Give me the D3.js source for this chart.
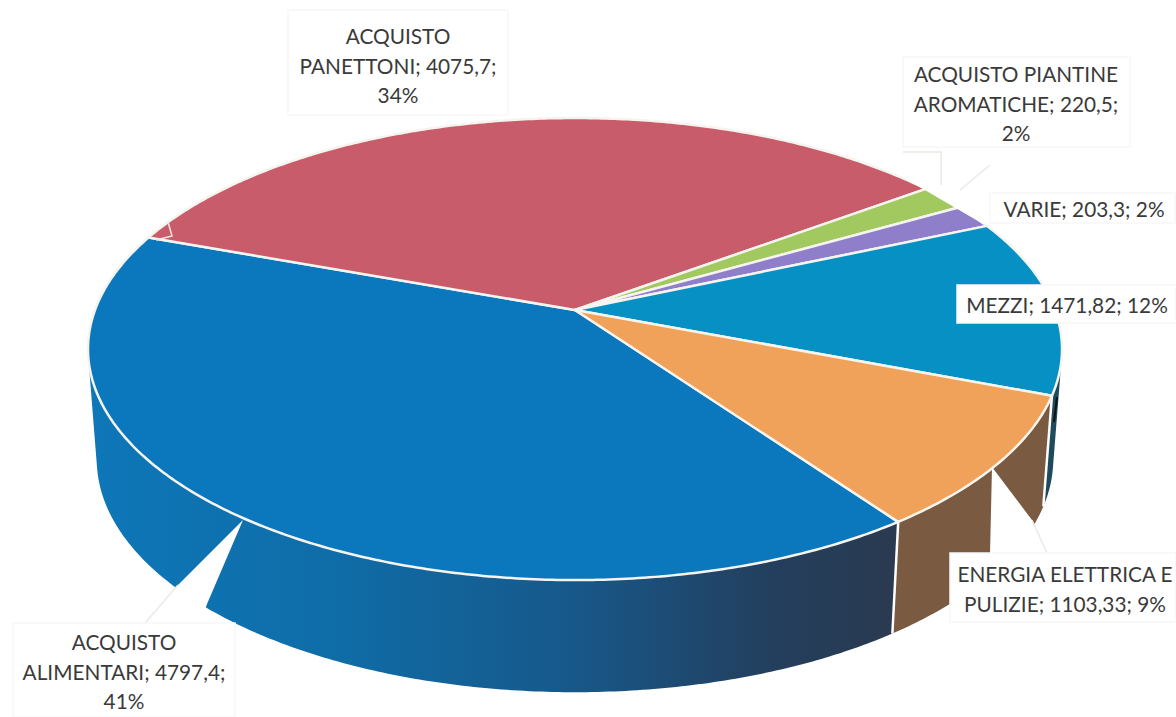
<!DOCTYPE html>
<html>
<head>
<meta charset="utf-8">
<script src="https://cdn.jsdelivr.net/npm/d3@7"></script>
<style>
  html, body { margin: 0; padding: 0; background: #fff; }
  svg { display: block; }
</style>
</head>
<body>
<div id="root"></div>
<script>
// DATA
const categories = ['ACQUISTO ALIMENTARI', 'ACQUISTO PANETTONI', 'ACQUISTO PIANTINE AROMATICHE', 'VARIE', 'MEZZI', 'ENERGIA ELETTRICA E PULIZIE'];
const values = [4797.4, 4075.7, 220.5, 203.3, 1471.82, 1103.33];
const labelLines = [
  ['ACQUISTO', 'ALIMENTARI; 4797,4;', '41%'],
  ['ACQUISTO', 'PANETTONI; 4075,7;', '34%'],
  ['ACQUISTO PIANTINE', 'AROMATICHE; 220,5;', '2%'],
  ['VARIE; 203,3; 2%'],
  ['MEZZI; 1471,82; 12%'],
  ['ENERGIA ELETTRICA E', 'PULIZIE; 1103,33; 9%']
];

// STYLE
const topColors = ['#0B78BD', '#C95C6B', '#A2C95F', '#8F7FCB', '#0690C3', '#F0A25A'];
const wallColors = ['url(#wallBlue)', '#7A5A40', '#7A5A40', '#7A5A40', '#1D4A5C', '#7A5A40'];

// DIMENSIONS
const width = 1176, height = 717;

// label boxes: x0, x1, y0, y1, centre x, first baseline
const labelBoxes = [
  [13, 235, 623, 717, 124, 650],
  [288, 508, 10, 115, 398, 44],
  [903, 1130, 57, 147, 1016, 82],
  [990, 1175, 193, 223, 1084, 217],
  [957, 1176, 285, 323, 1067, 313],
  [950, 1176, 553, 622, 1065, 582]
];
const lineStep = 29.5;

// perspective: turns a point of the unit circle into screen space
const apex = { x: 575, y: 310 }, radiusX = 480, radiusY = 224.4, tilt = 0.169;
const wallDepth = 110, wallScaleX = 0.982, wallScaleY = 1.008;

function project(angle, depth) {
  let u = Math.sin(angle), v = -Math.cos(angle);
  let d = 1 - tilt * v;
  let sx = depth ? wallScaleX : 1, sy = depth ? wallScaleY : 1;
  return [apex.x + sx * radiusX * u / d, apex.y + depth + sy * radiusY * v / d];
}

const rimPoints = (a0, a1, depth) => {
  let n = Math.max(2, Math.ceil((a1 - a0) / 0.01));
  return d3.range(n + 1).map(i => project(a0 + (a1 - a0) * i / n, depth));
};

const pie = d3.pie().sort(null).value(d => d)
  .startAngle(144.5 * Math.PI / 180)
  .endAngle((144.5 + 360) * Math.PI / 180);
const arcs = pie(values);
const line = d3.line();

// one quad per rim step, all wound the same way or the overlaps cancel out
function wallPath(d) {
  let top = rimPoints(d.startAngle, d.endAngle, 0);
  let bottom = rimPoints(d.startAngle, d.endAngle, wallDepth);
  return d3.range(top.length - 1)
    .map(i => {
      let quad = [top[i], top[i + 1], bottom[i + 1], bottom[i]];
      if (d3.polygonArea(quad) < 0) quad.reverse();
      return line(quad) + 'Z';
    })
    .join('');
}

const svg = d3.select('#root').append('svg')
  .attr('width', width)
  .attr('height', height)
  .style('background-color', '#fff');

// wall gradient goes dark towards the right
let defs = svg.append('defs');
let wallGrad = defs.append('linearGradient')
  .attr('id', 'wallBlue')
  .attr('gradientUnits', 'userSpaceOnUse')
  .attr('x1', 90).attr('x2', 890).attr('y1', 0).attr('y2', 0);
[[0, '#0E77B8'], [0.3, '#0F6DA8'], [0.6, '#17588A'], [0.85, '#233F5E'], [1, '#2A3A50']].forEach(s => {
  wallGrad.append('stop').attr('offset', s[0]).attr('stop-color', s[1]);
});

// walls first, the top covers whatever faces away
svg.append('g').selectAll('path')
  .data(arcs)
  .enter()
  .append('path')
  .attr('d', wallPath)
  .attr('fill', (d, i) => wallColors[i]);

// white seams between the walls
svg.append('g').selectAll('path')
  .data(arcs)
  .enter()
  .append('path')
  .attr('d', d => line([project(d.startAngle, 0), project(d.startAngle, wallDepth)]))
  .attr('stroke', '#fff')
  .attr('stroke-width', 2.5);

// top of the pie
svg.append('g').selectAll('path')
  .data(arcs)
  .enter()
  .append('path')
  .attr('d', d => line([[apex.x, apex.y]].concat(rimPoints(d.startAngle, d.endAngle, 0))) + 'Z')
  .attr('fill', (d, i) => topColors[i])
  .attr('stroke', '#F6F4EE')
  .attr('stroke-width', 2.5)
  .attr('stroke-linejoin', 'round');

// white callouts cutting through the wall
const callouts = [
  [[243, 520], [178, 585], [145, 623], [200, 623], [207, 604]],
  [[992, 467], [990, 555], [1045, 555], [1032, 520]],
  [[895, 172], [918, 186], [983, 224], [1000, 190]]
];
svg.append('g').selectAll('path')
  .data(callouts)
  .enter()
  .append('path')
  .attr('d', d => line(d) + 'Z')
  .attr('fill', '#fff');

// faint leader lines
const leaders = [
  [[178, 585], [145, 623]],
  [[1032, 520], [1047, 553]],
  [[941, 185], [941, 152], [903, 152]],
  [[960, 190], [990, 165]],
  [[168, 222], [172, 236], [156, 240]]
];
svg.append('g').selectAll('path')
  .data(leaders)
  .enter()
  .append('path')
  .attr('d', d => line(d))
  .attr('fill', 'none')
  .attr('stroke', '#EDE9E4')
  .attr('stroke-width', 1.5);

// scan artefact on the right edge
svg.append('path')
  .attr('d', line([[1057, 397], [1054, 422]]))
  .attr('stroke', '#111')
  .attr('stroke-width', 2);

// labels
let labels = svg.append('g').selectAll('g')
  .data(labelLines)
  .enter()
  .append('g');

labels.append('rect')
  .attr('x', (d, i) => labelBoxes[i][0])
  .attr('y', (d, i) => labelBoxes[i][2])
  .attr('width', (d, i) => labelBoxes[i][1] - labelBoxes[i][0])
  .attr('height', (d, i) => labelBoxes[i][3] - labelBoxes[i][2])
  .attr('fill', '#fff')
  .attr('stroke', '#F7F7F7')
  .attr('stroke-width', 1.5);

labels.each(function (d, i) {
  d3.select(this).selectAll('text')
    .data(d)
    .enter()
    .append('text')
    .attr('x', labelBoxes[i][4])
    .attr('y', (t, j) => labelBoxes[i][5] + j * lineStep)
    .attr('text-anchor', 'middle')
    .style('font-family', 'Lato, "Noto Sans", sans-serif')
    .style('font-size', '20.8px')
    .style('fill', '#3A3A3A')
    .text(t => t);
});
</script>
</body>
</html>
